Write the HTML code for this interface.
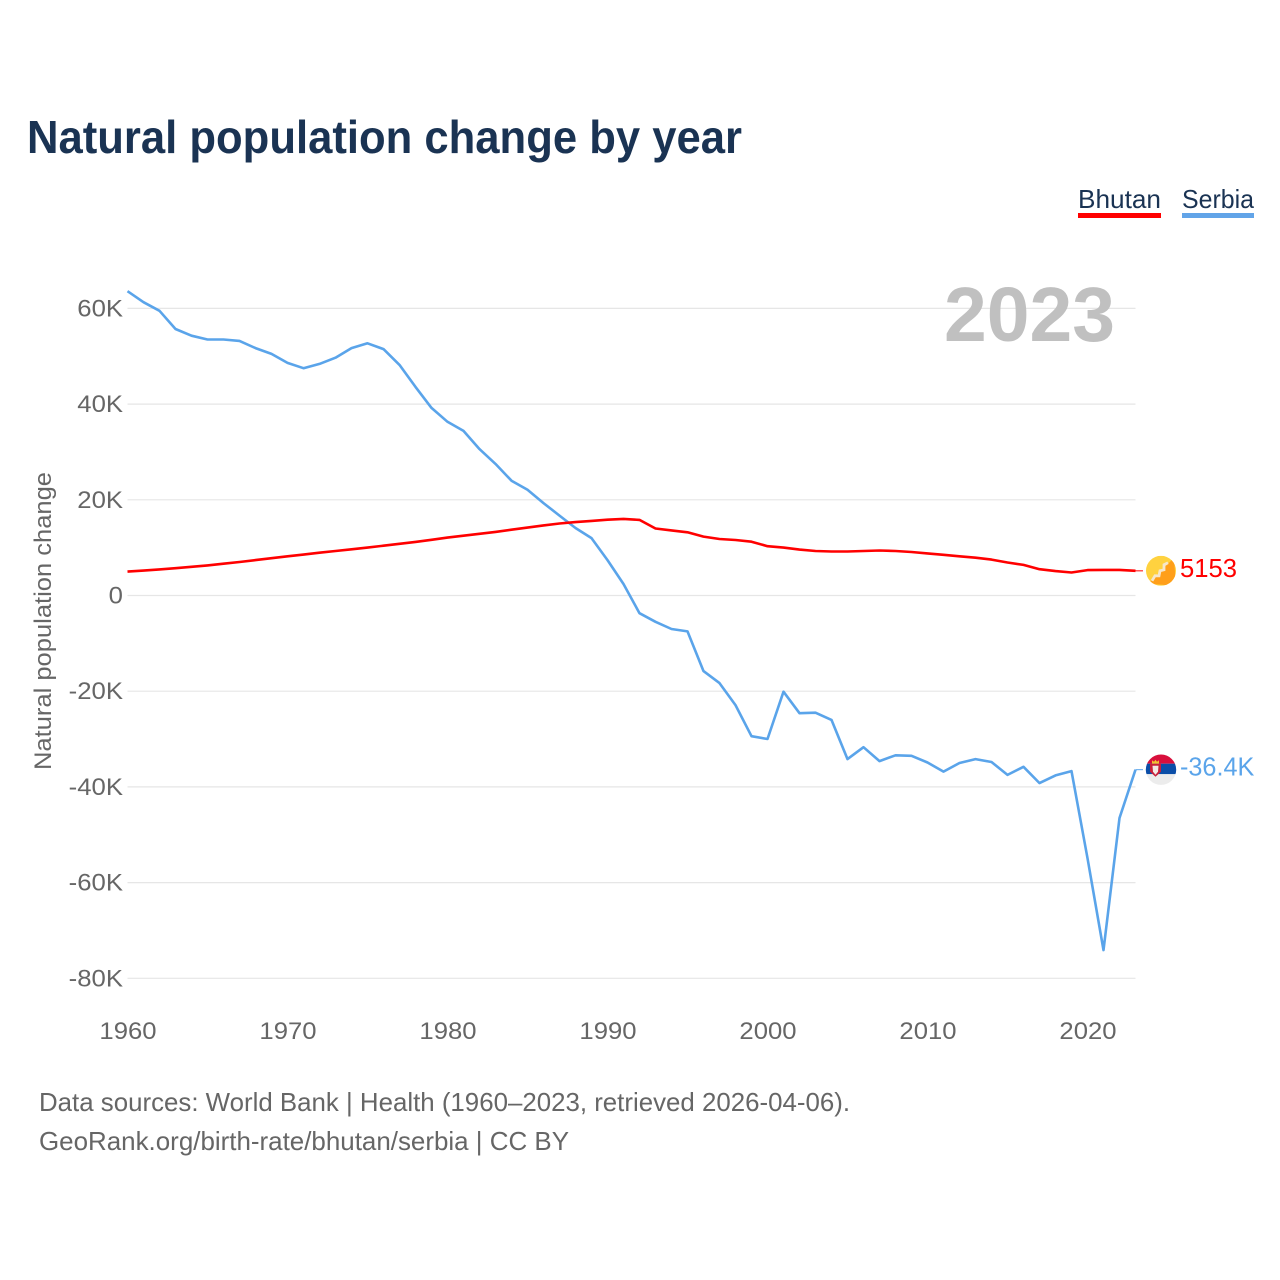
<!DOCTYPE html>
<html lang="en">
<head>
<meta charset="utf-8">
<title>Natural population change by year</title>
<style>
html,body{margin:0;padding:0;background:#fff;}
svg{display:block;}
text{font-family:"Liberation Sans",sans-serif;}
</style>
</head>
<body>
<svg id="chart" xmlns="http://www.w3.org/2000/svg" width="1280" height="1280" viewBox="0 0 1280 1280">
  <rect x="0" y="0" width="1280" height="1280" fill="#ffffff"/>
  <text x="27" y="153" font-size="46" font-weight="700" fill="#1a3353" textLength="715" lengthAdjust="spacingAndGlyphs">Natural population change by year</text>

  <g>
    <text x="1078" y="208" font-size="26" fill="#1a3353" textLength="83" lengthAdjust="spacingAndGlyphs">Bhutan</text>
    <rect x="1078" y="213" width="83" height="5" fill="#ff0000"/>
    <text x="1182" y="208" font-size="26" fill="#1a3353" textLength="72" lengthAdjust="spacingAndGlyphs">Serbia</text>
    <rect x="1182" y="213" width="72" height="5" fill="#62a4e8"/>
  </g>

  <g id="grid"></g>

  <text x="944" y="341" font-size="77" font-weight="700" fill="#c0c0c0" textLength="171" lengthAdjust="spacingAndGlyphs">2023</text>

  <g id="yAxis"></g>
  <g id="xAxis"></g>
  <text x="0" y="0" transform="translate(51 621) rotate(-90)" text-anchor="middle" font-size="24" fill="#666666" textLength="298" lengthAdjust="spacingAndGlyphs">Natural population change</text>

  <g id="series"></g>
  <g id="ends"></g>

  <g>
    <text x="39" y="1111" font-size="26" fill="#666666" textLength="811" lengthAdjust="spacingAndGlyphs">Data sources: World Bank | Health (1960–2023, retrieved 2026-04-06).</text>
    <text x="39" y="1150" font-size="26" fill="#666666" textLength="530" lengthAdjust="spacingAndGlyphs">GeoRank.org/birth-rate/bhutan/serbia | CC BY</text>
  </g>
</svg>

<script>
var years = [1960,1961,1962,1963,1964,1965,1966,1967,1968,1969,1970,1971,1972,1973,1974,1975,1976,1977,1978,1979,1980,1981,1982,1983,1984,1985,1986,1987,1988,1989,1990,1991,1992,1993,1994,1995,1996,1997,1998,1999,2000,2001,2002,2003,2004,2005,2006,2007,2008,2009,2010,2011,2012,2013,2014,2015,2016,2017,2018,2019,2020,2021,2022,2023];
var serbiaValues = [63.6,61.3,59.5,55.7,54.3,53.5,53.5,53.2,51.7,50.5,48.6,47.5,48.4,49.7,51.7,52.7,51.5,48.2,43.6,39.2,36.3,34.4,30.6,27.5,24.0,22.1,19.3,16.7,14.1,12.0,7.4,2.4,-3.7,-5.5,-7.0,-7.5,-15.8,-18.3,-22.9,-29.4,-30.0,-20.1,-24.6,-24.5,-26.0,-34.2,-31.7,-34.6,-33.4,-33.5,-34.9,-36.8,-35.0,-34.2,-34.8,-37.5,-35.8,-39.2,-37.6,-36.7,-54.9,-74.1,-46.5,-36.4];
var bhutanValues = [5.0,5.2,5.45,5.7,6.0,6.3,6.65,7.0,7.4,7.8,8.2,8.55,8.95,9.3,9.65,10.0,10.4,10.8,11.2,11.65,12.1,12.5,12.9,13.3,13.75,14.2,14.65,15.05,15.35,15.6,15.85,16.0,15.8,14.0,13.6,13.2,12.3,11.8,11.6,11.25,10.3,10.0,9.6,9.3,9.2,9.2,9.3,9.4,9.3,9.1,8.8,8.5,8.2,7.9,7.5,6.9,6.4,5.5,5.1,4.8,5.3,5.35,5.35,5.153];
var yTicks = [60,40,20,0,-20,-40,-60,-80];
var yTickLabels = ["60K","40K","20K","0","-20K","-40K","-60K","-80K"];
var xTicks = [1960,1970,1980,1990,2000,2010,2020];
var bhutanEndLabel = "5153";
var serbiaEndLabel = "-36.4K";

var NS = "http://www.w3.org/2000/svg";
function xScale(year){ return 127.5 + (year - 1960) * 16; }
function yScale(v){ return 595.5 - v * 4.785; }
function node(tag, parent){
  var el = document.createElementNS(NS, tag);
  parent.appendChild(el);
  return el;
}
function widen(el, factor){
  var w = el.getComputedTextLength() * factor;
  el.setAttribute("textLength", w.toFixed(1));
  el.setAttribute("lengthAdjust", "spacingAndGlyphs");
}
function linePath(values){
  return values.map(function(v, i){
    return (i ? "L" : "M") + xScale(years[i]).toFixed(1) + " " + yScale(v).toFixed(1);
  }).join(" ");
}

var grid = document.getElementById("grid");
var yAxis = document.getElementById("yAxis");
var xAxis = document.getElementById("xAxis");
var series = document.getElementById("series");
var ends = document.getElementById("ends");
var lastYear = years[years.length - 1];

yTicks.forEach(function(t, i){
  var gl = node("line", grid);
  
  
  gl.setAttribute("x1", xScale(1960));
  gl.setAttribute("x2", xScale(lastYear));
  gl.setAttribute("y1", yScale(t));
  gl.setAttribute("y2", yScale(t));
  gl.setAttribute("stroke", "#e6e6e6");
  gl.setAttribute("stroke-width", "1.2");

  var lb = node("text", yAxis);
  
  
  lb.setAttribute("x", 123);
  lb.setAttribute("y", yScale(t) + 8);
  lb.setAttribute("text-anchor", "end");
  lb.setAttribute("font-size", "24");
  lb.setAttribute("fill", "#666666");
  lb.textContent = yTickLabels[i];
  widen(lb, 1.07);
});

xTicks.forEach(function(t){
  var lb = node("text", xAxis);
  
  
  lb.setAttribute("x", xScale(t) + 0.5);
  lb.setAttribute("y", 1039);
  lb.setAttribute("text-anchor", "middle");
  lb.setAttribute("font-size", "24");
  lb.setAttribute("fill", "#666666");
  lb.textContent = String(t);
  widen(lb, 1.07);
});

var serbiaLine = node("path", series);


serbiaLine.setAttribute("d", linePath(serbiaValues));
serbiaLine.setAttribute("fill", "none");
serbiaLine.setAttribute("stroke", "#5aa4ea");
serbiaLine.setAttribute("stroke-width", "2.6");
serbiaLine.setAttribute("stroke-linejoin", "round");

var bhutanLine = node("path", series);


bhutanLine.setAttribute("d", linePath(bhutanValues));
bhutanLine.setAttribute("fill", "none");
bhutanLine.setAttribute("stroke", "#ff0000");
bhutanLine.setAttribute("stroke-width", "2.6");
bhutanLine.setAttribute("stroke-linejoin", "round");

function endMarker(value, color, text, nameKey, flagMarkup, factor){
  var y = yScale(value);
  var lead = node("line", ends);
  
  
  lead.setAttribute("x1", xScale(lastYear));
  lead.setAttribute("x2", xScale(lastYear) + 7.5);
  lead.setAttribute("y1", y);
  lead.setAttribute("y2", y);
  lead.setAttribute("stroke", color);
  lead.setAttribute("stroke-width", "1");

  var g = node("g", ends);
  
  
  g.setAttribute("transform", "translate(1161 " + y.toFixed(1) + ")");
  g.innerHTML = flagMarkup;

  var lb = node("text", ends);
  
  
  lb.setAttribute("x", 1180);
  lb.setAttribute("y", y + 6);
  lb.setAttribute("font-size", "26");
  lb.setAttribute("fill", color);
  lb.textContent = text;
  widen(lb, factor);
}

var bhutanFlag =
  '<defs><clipPath id="clipB"><circle r="15"/></clipPath></defs>' +
  '<g clip-path="url(#clipB)"><rect x="-15" y="-15" width="30" height="30" fill="#ffd23f"/>' +
  '<polygon points="-13,13 13,-13 15,15" fill="#ff9f1a"/>' +
  '<polyline points="-9,10 -6,5 -2,5 -1,0 3,-1 3,-6 7,-8" fill="none" stroke="#f6e7cc" stroke-width="2.8"/></g>';
var serbiaFlag =
  '<defs><clipPath id="clipS"><circle r="15.2"/></clipPath></defs>' +
  '<g clip-path="url(#clipS)"><rect x="-16" y="-16" width="32" height="10" fill="#d80f3c"/>' +
  '<rect x="-16" y="-6" width="32" height="10.5" fill="#0b4ea8"/>' +
  '<rect x="-16" y="4.5" width="32" height="11.5" fill="#ececec"/>' +
  '<polygon points="-9,-6 -9,-9.5 -7,-8 -5.5,-10 -4,-8 -2,-9.5 -2,-6" fill="#f2c230"/>' +
  '<polygon points="-11,-6 0,-6 0,2 -5.5,7 -11,2" fill="#c8203a"/>' +
  '<polygon points="-8.5,-4 -2.5,-4 -3,2 -5.5,5 -8,2" fill="#f3e9e4"/></g>';

endMarker(bhutanValues[bhutanValues.length - 1], "#ff0000", bhutanEndLabel, "bhutan", bhutanFlag, 0.985);
endMarker(serbiaValues[serbiaValues.length - 1], "#5aa4ea", serbiaEndLabel, "serbia", serbiaFlag, 0.97);
</script>
</body>
</html>
